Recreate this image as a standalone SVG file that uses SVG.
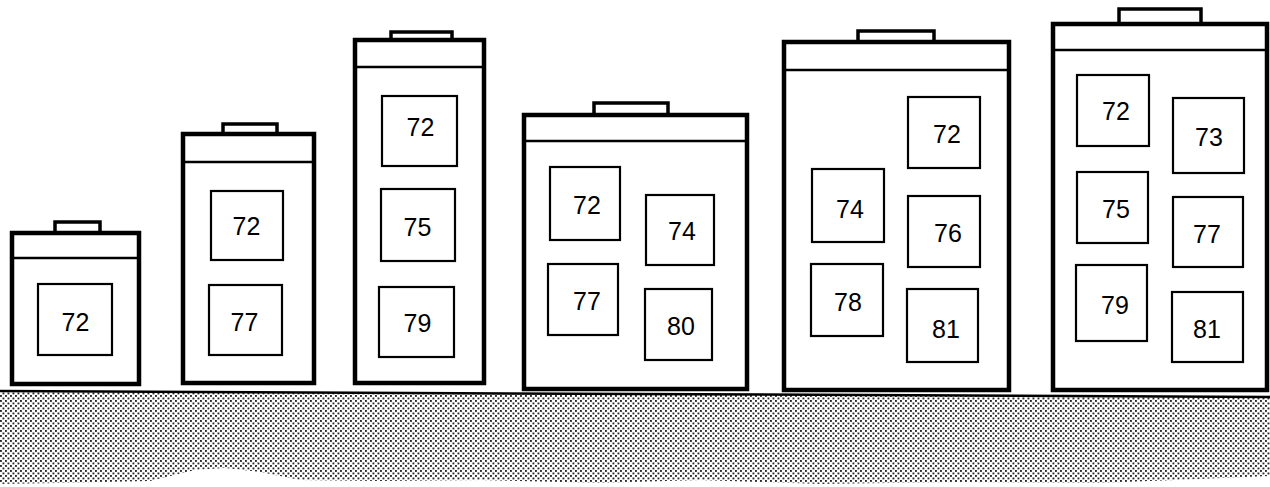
<svg xmlns="http://www.w3.org/2000/svg" width="1270" height="487" viewBox="0 0 1270 487">
<style>
.body{fill:#fff;stroke:#000;stroke-width:4.5}
.tab{fill:#fff;stroke:#000;stroke-width:3.5}
.hdr{stroke:#000;stroke-width:2.4}
.box{fill:#fff;stroke:#000;stroke-width:2.2}
.lbl{font-family:"Liberation Sans",Arial,sans-serif;font-size:25px;fill:#000;text-anchor:middle}
</style>
<defs>
<pattern id="dots" width="5" height="5" patternUnits="userSpaceOnUse">
<rect x="0" y="0" width="1.9" height="1.9" fill="#2a2a2a"/>
<rect x="2.5" y="2.5" width="1.9" height="1.9" fill="#2a2a2a"/>
</pattern>
</defs>
<rect width="1270" height="487" fill="#fff"/>
<g id="ground">
<path d="M0,391 L1270,397 L1270,476 L1200,479 L1100,483 L960,482 L820,484 L700,480 L600,483 L480,480 L380,481 L300,480 L260,472 L225,468 L195,470 L150,481 L60,483 L0,484 Z" fill="url(#dots)"/>
<line x1="0" y1="391" x2="1270" y2="397" stroke="#000" stroke-width="2.5"/>
</g>
<g id="c1">
<path class="tab" d="M55,233 V222 H100 V233"/>
<rect class="body" x="12" y="233" width="127" height="151"/>
<line class="hdr" x1="12" y1="258" x2="139" y2="258"/>
<g id="c1-72"><rect class="box" x="38" y="284" width="74" height="71"/><text class="lbl" x="75.5" y="331">72</text></g>
</g>
<g id="c2">
<path class="tab" d="M223,134 V124 H277 V134"/>
<rect class="body" x="183" y="134" width="131" height="249"/>
<line class="hdr" x1="183" y1="162" x2="314" y2="162"/>
<g id="c2-72"><rect class="box" x="211" y="191" width="72" height="69"/><text class="lbl" x="246.5" y="235">72</text></g>
<g id="c2-77"><rect class="box" x="209" y="285" width="73" height="70"/><text class="lbl" x="244.5" y="331">77</text></g>
</g>
<g id="c3">
<path class="tab" d="M391,40 V32 H452 V40"/>
<rect class="body" x="355" y="40" width="129" height="343"/>
<line class="hdr" x1="355" y1="67" x2="484" y2="67"/>
<g id="c3-72"><rect class="box" x="382" y="96" width="75" height="70"/><text class="lbl" x="420.5" y="136">72</text></g>
<g id="c3-75"><rect class="box" x="381" y="189" width="74" height="72"/><text class="lbl" x="417.5" y="236">75</text></g>
<g id="c3-79"><rect class="box" x="379" y="287" width="75" height="70"/><text class="lbl" x="417.5" y="332">79</text></g>
</g>
<g id="c4">
<path class="tab" d="M594,115 V103 H668 V115"/>
<rect class="body" x="524" y="115" width="223" height="274"/>
<line class="hdr" x1="524" y1="141" x2="747" y2="141"/>
<g id="c4-72"><rect class="box" x="550" y="167" width="70" height="73"/><text class="lbl" x="587" y="214">72</text></g>
<g id="c4-74"><rect class="box" x="646" y="195" width="68" height="70"/><text class="lbl" x="682" y="240">74</text></g>
<g id="c4-77"><rect class="box" x="548" y="264" width="70" height="71"/><text class="lbl" x="587" y="310">77</text></g>
<g id="c4-80"><rect class="box" x="645" y="289" width="67" height="71"/><text class="lbl" x="681" y="334.5">80</text></g>
</g>
<g id="c5">
<path class="tab" d="M858,42 V31 H934 V42"/>
<rect class="body" x="784" y="42" width="225" height="348"/>
<line class="hdr" x1="784" y1="70" x2="1009" y2="70"/>
<g id="c5-72"><rect class="box" x="908" y="97" width="72" height="71"/><text class="lbl" x="947" y="143">72</text></g>
<g id="c5-74"><rect class="box" x="812" y="169" width="72" height="73"/><text class="lbl" x="850" y="218">74</text></g>
<g id="c5-76"><rect class="box" x="908" y="196" width="72" height="71"/><text class="lbl" x="948" y="242">76</text></g>
<g id="c5-78"><rect class="box" x="811" y="264" width="72" height="72"/><text class="lbl" x="848" y="311">78</text></g>
<g id="c5-81"><rect class="box" x="907" y="289" width="71" height="73"/><text class="lbl" x="946" y="338">81</text></g>
</g>
<g id="c6">
<path class="tab" d="M1119,24 V9 H1201 V24"/>
<rect class="body" x="1053" y="24" width="214" height="366"/>
<line class="hdr" x1="1053" y1="50" x2="1267" y2="50"/>
<g id="c6-72"><rect class="box" x="1077" y="75" width="72" height="71"/><text class="lbl" x="1116" y="120">72</text></g>
<g id="c6-73"><rect class="box" x="1173" y="98" width="71" height="75"/><text class="lbl" x="1209" y="146">73</text></g>
<g id="c6-75"><rect class="box" x="1077" y="172" width="71" height="71"/><text class="lbl" x="1116" y="217.5">75</text></g>
<g id="c6-77"><rect class="box" x="1173" y="197" width="70" height="70"/><text class="lbl" x="1207" y="242.5">77</text></g>
<g id="c6-79"><rect class="box" x="1076" y="265" width="71" height="76"/><text class="lbl" x="1115" y="314">79</text></g>
<g id="c6-81"><rect class="box" x="1172" y="292" width="71" height="70"/><text class="lbl" x="1207" y="338">81</text></g>
</g>
</svg>
